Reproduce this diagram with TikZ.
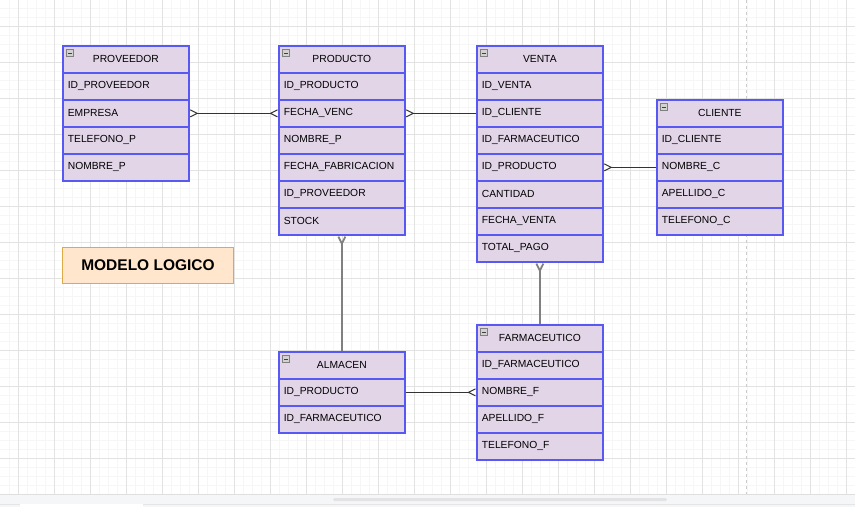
\documentclass[tikz,border=0pt]{standalone}
\usepackage{fontspec}
\setmainfont{Liberation Sans}
\usetikzlibrary{arrows.meta}
\definecolor{lila}{RGB}{225,213,231}
\definecolor{azul}{RGB}{88,88,242}
\definecolor{rejilla}{RGB}{226,226,226}
\definecolor{rejillafina}{RGB}{246,246,247}
\definecolor{durazno}{RGB}{255,230,204}
\definecolor{naranja}{RGB}{222,170,70}
\definecolor{barra}{RGB}{245,246,248}
\tikzset{
  fila/.style={draw=azul, fill=lila, line width=1.7pt, anchor=north west,
    text width=116pt, inner xsep=5pt, inner ysep=0pt, minimum height=27pt,
    font=\fontsize{10.3}{12}\selectfont},
  cabecera/.style={fila, align=center},
  icono/.style={draw=gray, fill=gray!35, line width=.9pt, minimum size=7.5pt,
    inner sep=0pt, path picture={\draw[black!75, line width=1pt]
      ([xshift=1.5pt]path picture bounding box.west) -- ([xshift=-1.5pt]path picture bounding box.east);}},
  pata/.tip={Straight Barb[reversed, length=7pt, width=7pt]},
  union/.style={line width=1pt, black!80},
  uniongris/.style={line width=1.8pt, black!50}
}
% tabla: nombre, x, y, titulo, campos
\newcommand{\entidad}[5]{
  \node[cabecera] (#1) at (#2,#3) {#4};
  \node[icono] at (#2+8,#3+8) {};
  \foreach \campo [count=\i] in {#5}
    \node[fila] (#1-\i) at (#2,{#3+27*\i}) {\campo};
}
\begin{document}
\begin{tikzpicture}[x=1pt, y=-1pt]
\useasboundingbox (0,0) rectangle (855,507);
% fondo con rejilla
\fill[white] (0,0) rectangle (855,494);
\foreach \i in {0,...,95}
{
    \draw[rejillafina] ({-0.3+9*\i},0)--++(0,494);
}
\foreach \j in {0,...,54}
{
    \draw[rejillafina] (0,{-1+9*\j})--++(855,0);
}
\foreach \i in {0,...,23}
{
    \draw[rejilla] ({17.7+36*\i},0)--++(0,494);
}
\foreach \j in {0,...,13}
{
    \draw[rejilla] (0,{26+36*\j})--++(855,0);
}
\draw[gray!40, dashed, line width=1pt] (746,0)--(746,494);
\fill[barra] (0,494) rectangle (855,507);
\draw[gray!25] (0,494)--(855,494);
\fill[gray!22, rounded corners=1.5pt] (333,498) rectangle (667,501);
\draw[gray!20] (0,503.7)--(855,503.7);
\fill[white] (20,504) rectangle (143,507);

\entidad{prov}{62}{45}{PROVEEDOR}{ID\_PROVEEDOR,EMPRESA,TELEFONO\_P,NOMBRE\_P}
\entidad{prod}{278}{45}{PRODUCTO}{ID\_PRODUCTO,FECHA\_VENC,NOMBRE\_P,FECHA\_FABRICACION,ID\_PROVEEDOR,STOCK}
\entidad{venta}{476}{45}{VENTA}{ID\_VENTA,ID\_CLIENTE,ID\_FARMACEUTICO,ID\_PRODUCTO,CANTIDAD,FECHA\_VENTA,TOTAL\_PAGO}
\entidad{cli}{656}{99}{CLIENTE}{ID\_CLIENTE,NOMBRE\_C,APELLIDO\_C,TELEFONO\_C}
\entidad{alm}{278}{351}{ALMACEN}{ID\_PRODUCTO,ID\_FARMACEUTICO}
\entidad{farm}{476}{324}{FARMACEUTICO}{ID\_FARMACEUTICO,NOMBRE\_F,APELLIDO\_F,TELEFONO\_F}

\node[draw=naranja, fill=durazno, line width=1pt, anchor=north west, minimum width=171pt,
  minimum height=36pt, font=\fontsize{15.5}{18}\selectfont\bfseries] (titulo) at (62,247) {MODELO LOGICO};

% relaciones
\draw[union, pata-pata] (prov-2.east)--(prod-2.west);
\draw[union, pata-] (prod-2.east)--(venta-2.west);
\draw[union, pata-] (venta-4.east)--(cli-2.west);
\draw[uniongris, pata-] (prod-6.south)--(alm.north);
\draw[uniongris, pata-] (venta-7.south)--(farm.north);
\draw[union, -pata] (alm-1.east)--(farm-2.west);
\end{tikzpicture}
\end{document}
